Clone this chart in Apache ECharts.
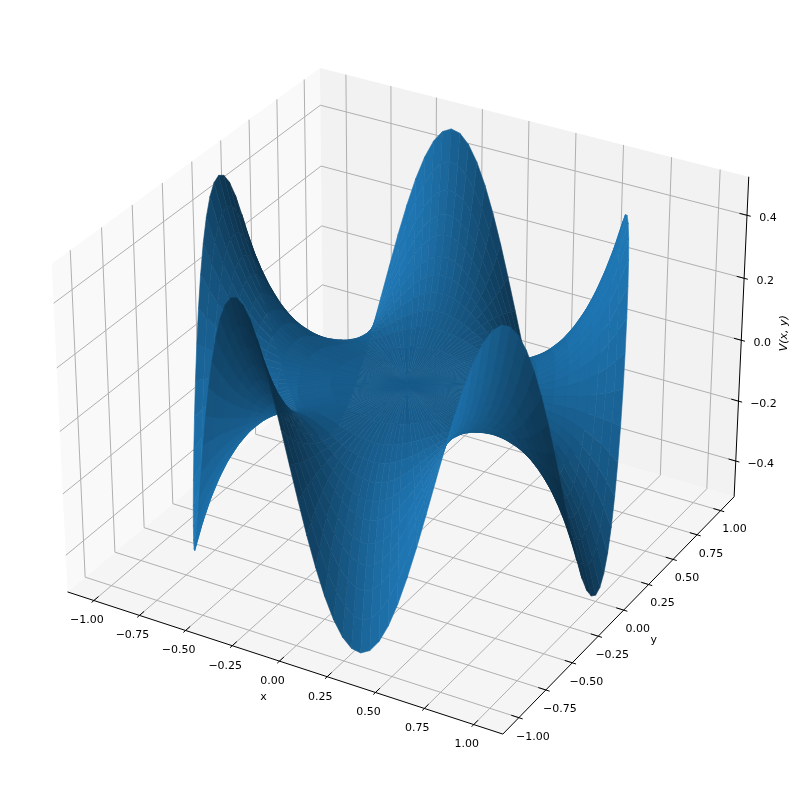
<!DOCTYPE html>
<html>
<head>
<meta charset="utf-8">
<style>html,body{margin:0;padding:0;background:#fff}#main{width:793px;height:793px}</style>
<script src="https://cdn.jsdelivr.net/npm/echarts@6/dist/echarts.min.js"></script>
</head>
<body>
<div id="main"></div>
<script>
const xTicks = [-1, -0.75, -0.5, -0.25, 0, 0.25, 0.5, 0.75, 1];
const yTicks = [-1, -0.75, -0.5, -0.25, 0, 0.25, 0.5, 0.75, 1];
const zTicks = [-0.4, -0.2, 0, 0.2, 0.4];
const xName = 'x', yName = 'y', zName = 'V(x, y)';
const xLim = [-1.1458, 1.1458], yLim = [-1.1458, 1.1458], zLim = [-0.5208, 0.5208];

// V on a polar grid: one row per radius, one column every 2.4 degrees from angle 0
const angleStep = 2.4;
const centreValue = 0;
const radii = [0.35, 0.5, 0.6, 0.68, 0.74, 0.79, 0.84, 0.88, 0.92, 0.96, 1];
const surfaceRows = [
  [-.003,-.003,-.002,-.002,-.002,-.001,-.001,0,0,.001,.001,.002,.002,.002,.003,.003,.003,.002,.002,.002,.001,.001,0,0,-.001,-.001,-.002,-.002,-.002,-.003,
   -.003,-.003,-.002,-.002,-.002,-.001,-.001,0,0,.001,.001,.002,.002,.002,.003,.003,.003,.002,.002,.002,.001,.001,0,0,-.001,-.001,-.002,-.002,-.002,-.003,
   -.003,-.003,-.002,-.002,-.002,-.001,-.001,0,0,.001,.001,.002,.002,.002,.003,.003,.003,.002,.002,.002,.001,.001,0,0,-.001,-.001,-.002,-.002,-.002,-.003,
   -.003,-.003,-.002,-.002,-.002,-.001,-.001,0,0,.001,.001,.002,.002,.002,.003,.003,.003,.002,.002,.002,.001,.001,0,0,-.001,-.001,-.002,-.002,-.002,-.003,
   -.003,-.003,-.002,-.002,-.002,-.001,-.001,0,0,.001,.001,.002,.002,.002,.003,.003,.003,.002,.002,.002,.001,.001,0,0,-.001,-.001,-.002,-.002,-.002,-.003],
  [-.016,-.015,-.014,-.013,-.01,-.008,-.005,-.002,.002,.005,.008,.01,.013,.014,.015,.016,.015,.014,.013,.01,.008,.005,.002,-.002,-.005,-.008,-.01,-.013,-.014,-.015,
   -.016,-.015,-.014,-.013,-.01,-.008,-.005,-.002,.002,.005,.008,.01,.013,.014,.015,.016,.015,.014,.013,.01,.008,.005,.002,-.002,-.005,-.008,-.01,-.013,-.014,-.015,
   -.016,-.015,-.014,-.013,-.01,-.008,-.005,-.002,.002,.005,.008,.01,.013,.014,.015,.016,.015,.014,.013,.01,.008,.005,.002,-.002,-.005,-.008,-.01,-.013,-.014,-.015,
   -.016,-.015,-.014,-.013,-.01,-.008,-.005,-.002,.002,.005,.008,.01,.013,.014,.015,.016,.015,.014,.013,.01,.008,.005,.002,-.002,-.005,-.008,-.01,-.013,-.014,-.015,
   -.016,-.015,-.014,-.013,-.01,-.008,-.005,-.002,.002,.005,.008,.01,.013,.014,.015,.016,.015,.014,.013,.01,.008,.005,.002,-.002,-.005,-.008,-.01,-.013,-.014,-.015],
  [-.039,-.038,-.036,-.031,-.026,-.019,-.012,-.004,.004,.012,.019,.026,.031,.036,.038,.039,.038,.036,.031,.026,.019,.012,.004,-.004,-.012,-.019,-.026,-.031,-.036,-.038,
   -.039,-.038,-.036,-.031,-.026,-.019,-.012,-.004,.004,.012,.019,.026,.031,.036,.038,.039,.038,.036,.031,.026,.019,.012,.004,-.004,-.012,-.019,-.026,-.031,-.036,-.038,
   -.039,-.038,-.036,-.031,-.026,-.019,-.012,-.004,.004,.012,.019,.026,.031,.036,.038,.039,.038,.036,.031,.026,.019,.012,.004,-.004,-.012,-.019,-.026,-.031,-.036,-.038,
   -.039,-.038,-.036,-.031,-.026,-.019,-.012,-.004,.004,.012,.019,.026,.031,.036,.038,.039,.038,.036,.031,.026,.019,.012,.004,-.004,-.012,-.019,-.026,-.031,-.036,-.038,
   -.039,-.038,-.036,-.031,-.026,-.019,-.012,-.004,.004,.012,.019,.026,.031,.036,.038,.039,.038,.036,.031,.026,.019,.012,.004,-.004,-.012,-.019,-.026,-.031,-.036,-.038],
  [-.073,-.071,-.066,-.059,-.049,-.036,-.022,-.008,.008,.022,.036,.049,.059,.066,.071,.073,.071,.066,.059,.049,.036,.022,.008,-.008,-.022,-.036,-.049,-.059,-.066,-.071,
   -.073,-.071,-.066,-.059,-.049,-.036,-.022,-.008,.008,.022,.036,.049,.059,.066,.071,.073,.071,.066,.059,.049,.036,.022,.008,-.008,-.022,-.036,-.049,-.059,-.066,-.071,
   -.073,-.071,-.066,-.059,-.049,-.036,-.022,-.008,.008,.022,.036,.049,.059,.066,.071,.073,.071,.066,.059,.049,.036,.022,.008,-.008,-.022,-.036,-.049,-.059,-.066,-.071,
   -.073,-.071,-.066,-.059,-.049,-.036,-.022,-.008,.008,.022,.036,.049,.059,.066,.071,.073,.071,.066,.059,.049,.036,.022,.008,-.008,-.022,-.036,-.049,-.059,-.066,-.071,
   -.073,-.071,-.066,-.059,-.049,-.036,-.022,-.008,.008,.022,.036,.049,.059,.066,.071,.073,.071,.066,.059,.049,.036,.022,.008,-.008,-.022,-.036,-.049,-.059,-.066,-.071],
  [-.111,-.108,-.101,-.09,-.074,-.055,-.034,-.012,.012,.034,.055,.074,.09,.101,.108,.111,.108,.101,.09,.074,.055,.034,.012,-.012,-.034,-.055,-.074,-.09,-.101,-.108,
   -.111,-.108,-.101,-.09,-.074,-.055,-.034,-.012,.012,.034,.055,.074,.09,.101,.108,.111,.108,.101,.09,.074,.055,.034,.012,-.012,-.034,-.055,-.074,-.09,-.101,-.108,
   -.111,-.108,-.101,-.09,-.074,-.055,-.034,-.012,.012,.034,.055,.074,.09,.101,.108,.111,.108,.101,.09,.074,.055,.034,.012,-.012,-.034,-.055,-.074,-.09,-.101,-.108,
   -.111,-.108,-.101,-.09,-.074,-.055,-.034,-.012,.012,.034,.055,.074,.09,.101,.108,.111,.108,.101,.09,.074,.055,.034,.012,-.012,-.034,-.055,-.074,-.09,-.101,-.108,
   -.111,-.108,-.101,-.09,-.074,-.055,-.034,-.012,.012,.034,.055,.074,.09,.101,.108,.111,.108,.101,.09,.074,.055,.034,.012,-.012,-.034,-.055,-.074,-.09,-.101,-.108],
  [-.154,-.151,-.141,-.125,-.103,-.077,-.048,-.016,.016,.048,.077,.103,.125,.141,.151,.154,.151,.141,.125,.103,.077,.048,.016,-.016,-.048,-.077,-.103,-.125,-.141,-.151,
   -.154,-.151,-.141,-.125,-.103,-.077,-.048,-.016,.016,.048,.077,.103,.125,.141,.151,.154,.151,.141,.125,.103,.077,.048,.016,-.016,-.048,-.077,-.103,-.125,-.141,-.151,
   -.154,-.151,-.141,-.125,-.103,-.077,-.048,-.016,.016,.048,.077,.103,.125,.141,.151,.154,.151,.141,.125,.103,.077,.048,.016,-.016,-.048,-.077,-.103,-.125,-.141,-.151,
   -.154,-.151,-.141,-.125,-.103,-.077,-.048,-.016,.016,.048,.077,.103,.125,.141,.151,.154,.151,.141,.125,.103,.077,.048,.016,-.016,-.048,-.077,-.103,-.125,-.141,-.151,
   -.154,-.151,-.141,-.125,-.103,-.077,-.048,-.016,.016,.048,.077,.103,.125,.141,.151,.154,.151,.141,.125,.103,.077,.048,.016,-.016,-.048,-.077,-.103,-.125,-.141,-.151],
  [-.209,-.205,-.191,-.169,-.14,-.105,-.065,-.022,.022,.065,.105,.14,.169,.191,.205,.209,.205,.191,.169,.14,.105,.065,.022,-.022,-.065,-.105,-.14,-.169,-.191,-.205,
   -.209,-.205,-.191,-.169,-.14,-.105,-.065,-.022,.022,.065,.105,.14,.169,.191,.205,.209,.205,.191,.169,.14,.105,.065,.022,-.022,-.065,-.105,-.14,-.169,-.191,-.205,
   -.209,-.205,-.191,-.169,-.14,-.105,-.065,-.022,.022,.065,.105,.14,.169,.191,.205,.209,.205,.191,.169,.14,.105,.065,.022,-.022,-.065,-.105,-.14,-.169,-.191,-.205,
   -.209,-.205,-.191,-.169,-.14,-.105,-.065,-.022,.022,.065,.105,.14,.169,.191,.205,.209,.205,.191,.169,.14,.105,.065,.022,-.022,-.065,-.105,-.14,-.169,-.191,-.205,
   -.209,-.205,-.191,-.169,-.14,-.105,-.065,-.022,.022,.065,.105,.14,.169,.191,.205,.209,.205,.191,.169,.14,.105,.065,.022,-.022,-.065,-.105,-.14,-.169,-.191,-.205],
  [-.264,-.258,-.241,-.213,-.177,-.132,-.082,-.028,.028,.082,.132,.177,.213,.241,.258,.264,.258,.241,.213,.177,.132,.082,.028,-.028,-.082,-.132,-.177,-.213,-.241,-.258,
   -.264,-.258,-.241,-.213,-.177,-.132,-.082,-.028,.028,.082,.132,.177,.213,.241,.258,.264,.258,.241,.213,.177,.132,.082,.028,-.028,-.082,-.132,-.177,-.213,-.241,-.258,
   -.264,-.258,-.241,-.213,-.177,-.132,-.082,-.028,.028,.082,.132,.177,.213,.241,.258,.264,.258,.241,.213,.177,.132,.082,.028,-.028,-.082,-.132,-.177,-.213,-.241,-.258,
   -.264,-.258,-.241,-.213,-.177,-.132,-.082,-.028,.028,.082,.132,.177,.213,.241,.258,.264,.258,.241,.213,.177,.132,.082,.028,-.028,-.082,-.132,-.177,-.213,-.241,-.258,
   -.264,-.258,-.241,-.213,-.177,-.132,-.082,-.028,.028,.082,.132,.177,.213,.241,.258,.264,.258,.241,.213,.177,.132,.082,.028,-.028,-.082,-.132,-.177,-.213,-.241,-.258],
  [-.33,-.322,-.301,-.267,-.22,-.165,-.102,-.034,.034,.102,.165,.22,.267,.301,.322,.33,.322,.301,.267,.22,.165,.102,.034,-.034,-.102,-.165,-.22,-.267,-.301,-.322,
   -.33,-.322,-.301,-.267,-.22,-.165,-.102,-.034,.034,.102,.165,.22,.267,.301,.322,.33,.322,.301,.267,.22,.165,.102,.034,-.034,-.102,-.165,-.22,-.267,-.301,-.322,
   -.33,-.322,-.301,-.267,-.22,-.165,-.102,-.034,.034,.102,.165,.22,.267,.301,.322,.33,.322,.301,.267,.22,.165,.102,.034,-.034,-.102,-.165,-.22,-.267,-.301,-.322,
   -.33,-.322,-.301,-.267,-.22,-.165,-.102,-.034,.034,.102,.165,.22,.267,.301,.322,.33,.322,.301,.267,.22,.165,.102,.034,-.034,-.102,-.165,-.22,-.267,-.301,-.322,
   -.33,-.322,-.301,-.267,-.22,-.165,-.102,-.034,.034,.102,.165,.22,.267,.301,.322,.33,.322,.301,.267,.22,.165,.102,.034,-.034,-.102,-.165,-.22,-.267,-.301,-.322],
  [-.408,-.399,-.372,-.33,-.273,-.204,-.126,-.043,.043,.126,.204,.273,.33,.372,.399,.408,.399,.372,.33,.273,.204,.126,.043,-.043,-.126,-.204,-.273,-.33,-.372,-.399,
   -.408,-.399,-.372,-.33,-.273,-.204,-.126,-.043,.043,.126,.204,.273,.33,.372,.399,.408,.399,.372,.33,.273,.204,.126,.043,-.043,-.126,-.204,-.273,-.33,-.372,-.399,
   -.408,-.399,-.372,-.33,-.273,-.204,-.126,-.043,.043,.126,.204,.273,.33,.372,.399,.408,.399,.372,.33,.273,.204,.126,.043,-.043,-.126,-.204,-.273,-.33,-.372,-.399,
   -.408,-.399,-.372,-.33,-.273,-.204,-.126,-.043,.043,.126,.204,.273,.33,.372,.399,.408,.399,.372,.33,.273,.204,.126,.043,-.043,-.126,-.204,-.273,-.33,-.372,-.399,
   -.408,-.399,-.372,-.33,-.273,-.204,-.126,-.043,.043,.126,.204,.273,.33,.372,.399,.408,.399,.372,.33,.273,.204,.126,.043,-.043,-.126,-.204,-.273,-.33,-.372,-.399],
  [-.5,-.489,-.457,-.405,-.335,-.25,-.155,-.052,.052,.155,.25,.335,.405,.457,.489,.5,.489,.457,.405,.335,.25,.155,.052,-.052,-.155,-.25,-.335,-.405,-.457,-.489,
   -.5,-.489,-.457,-.405,-.335,-.25,-.155,-.052,.052,.155,.25,.335,.405,.457,.489,.5,.489,.457,.405,.335,.25,.155,.052,-.052,-.155,-.25,-.335,-.405,-.457,-.489,
   -.5,-.489,-.457,-.405,-.335,-.25,-.155,-.052,.052,.155,.25,.335,.405,.457,.489,.5,.489,.457,.405,.335,.25,.155,.052,-.052,-.155,-.25,-.335,-.405,-.457,-.489,
   -.5,-.489,-.457,-.405,-.335,-.25,-.155,-.052,.052,.155,.25,.335,.405,.457,.489,.5,.489,.457,.405,.335,.25,.155,.052,-.052,-.155,-.25,-.335,-.405,-.457,-.489,
   -.5,-.489,-.457,-.405,-.335,-.25,-.155,-.052,.052,.155,.25,.335,.405,.457,.489,.5,.489,.457,.405,.335,.25,.155,.052,-.052,-.155,-.25,-.335,-.405,-.457,-.489]
];

// same camera as a matplotlib 3d axes: elev 30, azim -60, dist 10
const el = 30 * Math.PI / 180, az = -60 * Math.PI / 180, dist = 10;
const k0 = 1.8294640721620434 * 25 / 24 / Math.hypot(4, 4, 3);
const box = [4 * k0, 4 * k0, 3 * k0];
const R = box.map(b => b / 2);
const eye = [R[0] + dist * Math.cos(el) * Math.cos(az), R[1] + dist * Math.cos(el) * Math.sin(az), R[2] + dist * Math.sin(el)];
const norm = v => { const l = Math.hypot(v[0], v[1], v[2]); return v.map(c => c / l); };
const cross = (a, b) => [a[1] * b[2] - a[2] * b[1], a[2] * b[0] - a[0] * b[2], a[0] * b[1] - a[1] * b[0]];
const dot = (a, b) => a[0] * b[0] + a[1] * b[1] + a[2] * b[2];
const sub = (a, b) => [a[0] - b[0], a[1] - b[1], a[2] - b[2]];
const w = norm(sub(eye, R));
const u = norm(cross([0, 0, 1], w));
const v = cross(w, u);
function project(p) {
  const q = sub([
    (p[0] - xLim[0]) / (xLim[1] - xLim[0]) * box[0],
    (p[1] - yLim[0]) / (yLim[1] - yLim[0]) * box[1],
    (p[2] - zLim[0]) / (zLim[1] - zLim[0]) * box[2]
  ], eye);
  const d = -dot(q, w);
  return [dot(q, u) / d, dot(q, v) / d, d];
}

// surface facets, far ones first (matplotlib's average zsort)
const light = [-0.6667, -0.6667, 0.3333];
const base = [31, 119, 180];
const columns = surfaceRows[0].length;
function surfacePoint(i, j) {
  if (i === 0) return [0, 0, centreValue];
  const a = (j % columns) * angleStep * Math.PI / 180;
  return [radii[i - 1] * Math.cos(a), radii[i - 1] * Math.sin(a), surfaceRows[i - 1][j % columns]];
}
const facets = [];
for (let i = 0; i < radii.length; i++) {
  for (let j = 0; j < columns; j++) {
    const ps = [surfacePoint(i, j), surfacePoint(i, j + 1), surfacePoint(i + 1, j + 1), surfacePoint(i + 1, j)];
    let n = norm(cross(sub(ps[2], ps[0]), sub(ps[3], ps[1])));
    if (n[2] < 0) n = n.map(c => -c);
    const f = 0.65 + 0.35 * dot(n, light);
    const pr = ps.map(project);
    facets.push({
      pts: pr.map(c => [c[0], c[1]]),
      depth: (pr[0][2] + pr[1][2] + pr[2][2] + pr[3][2]) / 4,
      color: 'rgb(' + base.map(c => Math.round(c * f)).join(',') + ')'
    });
  }
}
facets.sort((p, q) => q.depth - p.depth);

const [x0, x1] = xLim, [y0, y1] = yLim, [z0, z1] = zLim;
const panes = [
  { pts: [[x0, y0, z0], [x1, y0, z0], [x1, y1, z0], [x0, y1, z0]], color: '#f5f5f5' },
  { pts: [[x0, y0, z0], [x0, y1, z0], [x0, y1, z1], [x0, y0, z1]], color: '#f9f9f9' },
  { pts: [[x0, y1, z0], [x1, y1, z0], [x1, y1, z1], [x0, y1, z1]], color: '#f2f2f2' }
];
const dx = (x1 - x0) / 12, dy = (y1 - y0) / 12;
const lines = [];
const gridLine = (a, b) => lines.push({ a, b, color: '#b0b0b0' });
const blackLine = (a, b) => lines.push({ a, b, color: '#000' });
xTicks.forEach(t => { gridLine([t, y0, z0], [t, y1, z0]); gridLine([t, y1, z0], [t, y1, z1]); });
yTicks.forEach(t => { gridLine([x1, t, z0], [x0, t, z0]); gridLine([x0, t, z0], [x0, t, z1]); });
zTicks.forEach(t => { gridLine([x0, y0, t], [x0, y1, t]); gridLine([x0, y1, t], [x1, y1, t]); });
blackLine([x0, y0, z0], [x1, y0, z0]);
blackLine([x1, y0, z0], [x1, y1, z0]);
blackLine([x1, y1, z0], [x1, y1, z1]);
xTicks.forEach(t => blackLine([t, y0 - 0.1 * dy, z0], [t, y0 + 0.2 * dy, z0]));
yTicks.forEach(t => blackLine([x1 + 0.1 * dx, t, z0], [x1 - 0.2 * dx, t, z0]));
zTicks.forEach(t => blackLine([x1 + 0.1 * dx, y1, t], [x1 - 0.2 * dx, y1, t]));

const fmt = (t, n) => (t < 0 ? '\u2212' : '') + Math.abs(t).toFixed(n);
const labels = [];
xTicks.forEach(t => labels.push({ p: [t, y0, z0], text: fmt(t, 2), ox: -7, oy: 20 }));
yTicks.forEach(t => labels.push({ p: [x1, t, z0], text: fmt(t, 2), ox: 14, oy: 19 }));
zTicks.forEach(t => labels.push({ p: [x1, y1, t], text: fmt(t, 1), ox: t < 0 ? 25 : 21, oy: 3 }));
labels.push({ p: [0, y0, z0], text: xName, ox: -16, oy: 36 });
labels.push({ p: [x1, 0, z0], text: yName, ox: 30, oy: 30 });
labels.push({ p: [x1, y1, 0], text: zName, ox: 43, oy: -7, rotation: Math.PI / 2, italic: true });

const chart = echarts.init(document.getElementById('main'), null, { renderer: 'canvas' });
chart.setOption({
  animation: false,
  backgroundColor: '#fff',
  grid: { left: 9, top: 8, width: 775, height: 775 },
  xAxis: { type: 'value', min: -0.095, max: 0.09, show: false },
  yAxis: { type: 'value', min: -0.095, max: 0.09, show: false },
  series: [
    {
      type: 'custom', silent: true, clip: false, z: 1, data: panes.map((_, i) => i),
      renderItem(params, api) {
        const p = panes[params.dataIndex];
        return { type: 'polygon', shape: { points: p.pts.map(c => api.coord(project(c))) }, style: { fill: p.color } };
      }
    },
    {
      type: 'custom', silent: true, clip: false, z: 2, data: lines.map((_, i) => i),
      renderItem(params, api) {
        const l = lines[params.dataIndex];
        const a = api.coord(project(l.a)), b = api.coord(project(l.b));
        return { type: 'line', shape: { x1: a[0], y1: a[1], x2: b[0], y2: b[1] }, style: { stroke: l.color, lineWidth: 1 } };
      }
    },
    {
      type: 'custom', silent: true, clip: false, z: 3, data: labels.map((_, i) => i),
      renderItem(params, api) {
        const l = labels[params.dataIndex];
        const a = api.coord(project(l.p));
        return {
          type: 'text', x: a[0] + l.ox, y: a[1] + l.oy, rotation: l.rotation || 0,
          style: { text: l.text, font: (l.italic ? 'italic ' : '') + '11px "DejaVu Sans"', fill: '#000', align: 'center', verticalAlign: 'middle' }
        };
      }
    },
    {
      type: 'custom', silent: true, clip: false, z: 4, progressive: 0, data: facets.map((_, i) => i),
      renderItem(params, api) {
        const f = facets[params.dataIndex];
        return { type: 'polygon', shape: { points: f.pts.map(c => api.coord(c)) }, style: { fill: f.color, stroke: f.color, lineWidth: 0.6 } };
      }
    }
  ]
});
</script>
</body>
</html>
